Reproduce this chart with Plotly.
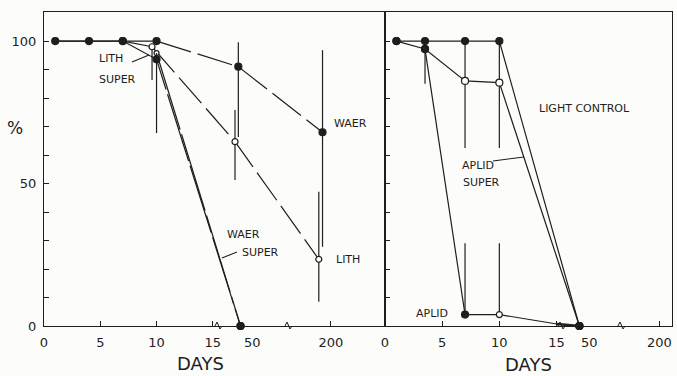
import numpy as np
import plotly.graph_objects as go

# ---------------- data (survival %, days) ----------------
# broken day axis: 0-15 linear, then 50, then 200 (anchors per panel)
axis_days = [0, 15, 50, 200]
left_axis_pos = [0, 15, 18.45, 25.5]
right_axis_pos = [0, 15, 17.8, 24.0]

x_tick_days = [0, 5, 10, 15, 200]
x_tick_text = ["0", "5", "10", "15", "200"]
y_tick_vals = [0, 10, 20, 30, 40, 50, 60, 70, 80, 90, 100]
y_tick_text = ["0", "", "", "", "", "50", "", "", "", "", "100"]

# Left panel
waer_days = [1, 4, 7, 10, 38, 184]
waer_pct = [100, 100, 100, 100, 91, 68]
waer_err_hi = [0, 0, 0, 0, 8.6, 28.8]
waer_err_lo = [0, 0, 0, 0, 24.7, 40.2]

lith_days = [1, 4, 7, 9.6, 35, 177]
lith_pct = [100, 100, 100, 98, 64.7, 23.4]
lith_err_hi = [0, 0, 0, 0, 11.1, 23.7]
lith_err_lo = [0, 0, 0, 11.7, 13.5, 14.9]

lith_super_days = [7, 10, 40]
lith_super_pct = [100, 93.6, 0]
lith_super_err_hi = [0, 2.2, 0]
lith_super_err_lo = [0, 25.9, 0]

waer_super_days = [10, 40]
waer_super_pct = [95.8, 0]

# Right panel
light_days = [1, 3.5, 7, 10, 40]
light_pct = [100, 100, 100, 100, 0]

aplid_super_days = [1, 3.5, 7, 10, 40]
aplid_super_pct = [100, 97.2, 86, 85.4, 0]
aplid_super_err_hi = [0, 2.8, 14, 14.6, 0]
aplid_super_err_lo = [0, 12.2, 23.5, 22.9, 0]

aplid_days = [3.5, 7, 10, 15.5, 40]
aplid_pct = [97.2, 4, 4, 0.7, 0]
aplid_err_hi = [0, 25, 25, 0, 0]
aplid_err_lo = [0, 0, 0, 0, 0]

# ---------------- style ----------------
INK = "#1e1e1e"
BG = "#fcfcfa"
FONT = "DejaVu Sans"
W, H = 677, 376
ML, MR, MT, MB = 44, 5, 12, 50
PW = W - ML - MR
PH = H - MT - MB


def lpos(d):
    return list(np.interp(d, axis_days, left_axis_pos))


def rpos(d):
    return list(np.interp(d, axis_days, right_axis_pos))


def px(x):
    return (x - ML) / PW


def py(y):
    return (H - MB - y) / PH


fig = go.Figure()


def line(xs, ys, xa, ya, dash="solid", width=1.2):
    fig.add_trace(go.Scatter(x=xs, y=ys, mode="lines", xaxis=xa, yaxis=ya,
                             line=dict(color=INK, width=width, dash=dash),
                             hoverinfo="skip", showlegend=False, cliponaxis=False))


def marks(xs, ys, xa, ya, fills, sizes, ehi=None, elo=None):
    err = None
    if ehi is not None:
        err = dict(type="data", symmetric=False, array=ehi, arrayminus=elo,
                   width=0, thickness=1.2, color=INK)
    fig.add_trace(go.Scatter(x=xs, y=ys, mode="markers", xaxis=xa, yaxis=ya,
                             marker=dict(color=[INK if f else "white" for f in fills],
                                         size=sizes, opacity=1,
                                         line=dict(color=INK, width=1.2)),
                             error_y=err, hoverinfo="skip", showlegend=False,
                             cliponaxis=False))


# ----- left panel lines -----
line(lpos(lith_days[:3]), lith_pct[:3], "x", "y")
line(lpos(lith_days[2:4]), lith_pct[2:4], "x", "y")
line(lpos(lith_days[3:]), lith_pct[3:], "x", "y", dash="34px,7px")
line(lpos(waer_days[:4]), waer_pct[:4], "x", "y")
line(lpos(waer_days[3:]), waer_pct[3:], "x", "y", dash="36px,7px")
line(lpos(lith_super_days), lith_super_pct, "x", "y", dash="70px,5px")
line(lpos(waer_super_days), waer_super_pct, "x", "y", dash="80px,5px")

# ----- right panel lines -----
line(rpos(light_days), light_pct, "x2", "y2")
line(rpos(aplid_super_days), aplid_super_pct, "x2", "y2")
line(rpos(aplid_days[:4]), aplid_pct[:4], "x2", "y2")
line(rpos(aplid_days[3:]), aplid_pct[3:], "x2", "y2", width=2.6)

# ----- markers + error bars -----
marks(lpos(lith_days), lith_pct, "x", "y", [0] * 6, [6] * 6, lith_err_hi, lith_err_lo)
marks(lpos(waer_super_days), waer_super_pct, "x", "y", [0, 1], [5, 7])
marks(lpos(lith_super_days), lith_super_pct, "x", "y", [1, 1, 1], [7, 7, 7],
      lith_super_err_hi, lith_super_err_lo)
marks(lpos(waer_days), waer_pct, "x", "y", [1] * 6, [7] * 6, waer_err_hi, waer_err_lo)

marks(rpos(aplid_super_days), aplid_super_pct, "x2", "y2", [1, 1, 0, 0, 1], [7] * 5,
      aplid_super_err_hi, aplid_super_err_lo)
marks(rpos(aplid_days), aplid_pct, "x2", "y2", [1, 1, 0, 1, 1], [7, 7, 6, 0, 7],
      aplid_err_hi, aplid_err_lo)
marks(rpos(light_days), light_pct, "x2", "y2", [1] * 5, [7] * 5)

# ----- axes -----
split = (385 - ML) / PW
ax_common = dict(showline=True, linecolor=INK, linewidth=1.3, mirror=True,
                 ticks="inside", ticklen=5, tickwidth=1.2, tickcolor=INK,
                 showgrid=False, zeroline=False,
                 tickfont=dict(family=FONT, size=13, color=INK))
fig.update_layout(
    xaxis=dict(domain=[0, split], range=[0, 30.3], tickvals=lpos(x_tick_days),
               ticktext=x_tick_text, ticklabelstandoff=4, **ax_common),
    xaxis2=dict(domain=[split, 1], range=[0, 25.1], tickvals=rpos(x_tick_days),
                ticktext=x_tick_text, anchor="y2", ticklabelstandoff=4, **ax_common),
    yaxis=dict(range=[0, 110.2], tickvals=y_tick_vals, ticktext=y_tick_text,
               ticklabelstandoff=4, **ax_common),
    yaxis2=dict(range=[0, 110.2], tickvals=y_tick_vals, showticklabels=False,
                anchor="x2", **ax_common),
    width=W, height=H, margin=dict(l=ML, r=MR, t=MT, b=MB),
    paper_bgcolor=BG, plot_bgcolor=BG, showlegend=False,
)


# ----- annotations (text) -----
def txt(t, x, y, size=11):
    fig.add_annotation(text=t, x=px(x), y=py(y), xref="paper", yref="paper",
                       showarrow=False, xanchor="center", yanchor="middle",
                       font=dict(family=FONT, size=size, color=INK))


txt("LITH", 111, 59)
txt("SUPER", 117, 80)
txt("WAER", 350, 123)
txt("LITH", 348, 259)
txt("WAER", 243, 235)
txt("SUPER", 260, 252)
txt("LIGHT CONTROL", 584, 108)
txt("APLID", 478, 165)
txt("SUPER", 481, 182)
txt("APLID", 432, 313)
txt("%", 15, 128, size=17)
txt("DAYS", 200, 363, size=18)
txt("DAYS", 528, 364, size=18)
txt("50", 252, 342, size=13)
txt("50", 589, 342, size=13)

# pointer strokes
for (x0, y0, x1, y1) in [(132, 62, 149, 55), (222, 258, 237, 252), (493, 161, 524, 157)]:
    fig.add_shape(type="line", x0=px(x0), y0=py(y0), x1=px(x1), y1=py(y1),
                  xref="paper", yref="paper", line=dict(color=INK, width=1.1))

# axis break marks
for bx in [219, 289, 562, 622]:
    path = (f"M {px(bx-4)},{py(326)} L {px(bx-2)},{py(322)} "
            f"L {px(bx+1)},{py(329)} L {px(bx+3)},{py(326)}")
    fig.add_shape(type="path", path=path, xref="paper", yref="paper",
                  line=dict(color=INK, width=1))

fig.write_html("out.html")
